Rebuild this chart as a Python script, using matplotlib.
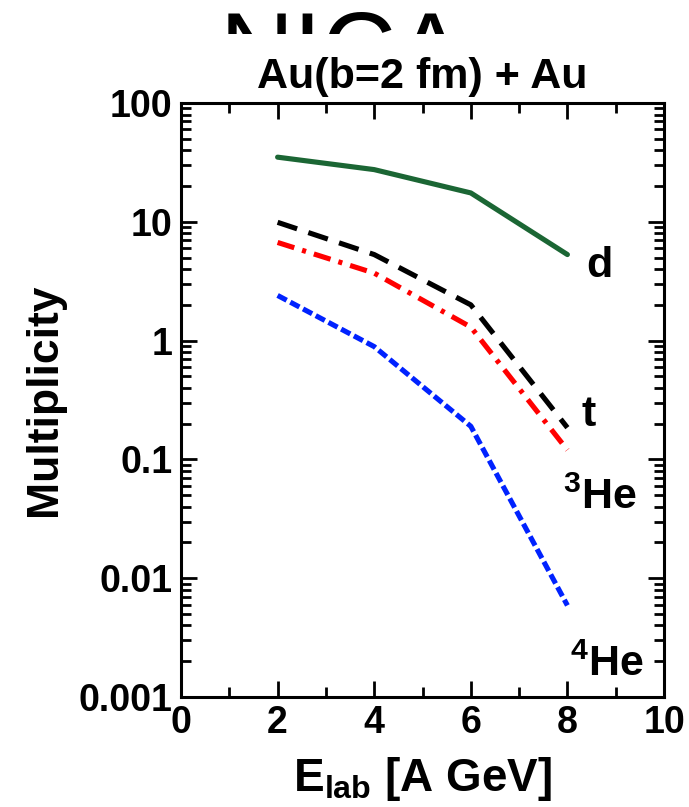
import matplotlib
matplotlib.use("Agg")
import matplotlib.pyplot as plt

# ---------------------------------------------------------
# data
# ---------------------------------------------------------
e_lab = [2, 4, 6, 8]

mult_d = [35.0, 27.5, 17.5, 5.3]
mult_t = [9.9, 5.3, 2.0, 0.185]
mult_he3 = [6.7, 3.7, 1.3, 0.12]
mult_he4 = [2.4, 0.89, 0.19, 0.0059]

labels = ["d", "t", "$^{3}$He", "$^{4}$He"]
label_pos = [(8.38, 3.4), (8.3, 0.19), (7.9, 0.038), (8.05, 0.0015)]

# ---------------------------------------------------------
# style
# ---------------------------------------------------------
plt.rcParams["font.family"] = ["Liberation Sans", "DejaVu Sans"]
plt.rcParams["font.weight"] = "bold"
plt.rcParams["mathtext.fontset"] = "custom"
plt.rcParams["mathtext.rm"] = "Liberation Sans:bold"
plt.rcParams["mathtext.bf"] = "Liberation Sans:bold"
plt.rcParams["mathtext.default"] = "bf"

fig = plt.figure(figsize=(6.89, 8.07), dpi=100)

# big header, only its top part is visible
ax_top = fig.add_axes([0, 1 - 34 / 807, 1, 34 / 807])
ax_top.axis("off")
ax_top.text(220 / 689, 1 - 85 / 807, "NICA", transform=fig.transFigure,
            fontsize=74, fontweight="normal", ha="left", va="baseline",
            clip_on=True)

ax = fig.add_axes([181 / 689, 1 - 697 / 807, 483 / 689, 594 / 807])

lw = 3.7
ax.plot(e_lab, mult_d, color="#1b6634", linewidth=lw, solid_capstyle="round")
l_t, = ax.plot(e_lab, mult_t, color="black", linewidth=lw)
l_t.set_dashes([4.0, 2.3])
l_he3, = ax.plot(e_lab, mult_he3, color="#ff0000", linewidth=lw)
l_he3.set_dashes([3.4, 1.6, 0.8, 1.6])
l_he4, = ax.plot(e_lab, mult_he4, color="#0022ff", linewidth=lw)
l_he4.set_dashes([2.0, 0.8])

for txt, (x, y) in zip(labels, label_pos):
    ax.text(x, y, txt, fontsize=31, fontweight="bold", ha="left", va="baseline")

ax.set_yscale("log")
ax.set_xlim(0, 10)
ax.set_ylim(0.001, 100)
ax.set_xticks([0, 2, 4, 6, 8, 10])
ax.set_xticks([1, 3, 5, 7, 9], minor=True)
ax.set_yticks([0.001, 0.01, 0.1, 1, 10, 100])
ax.set_yticklabels(["0.001", "0.01", "0.1", "1", "10", "100"])

ax.tick_params(which="both", direction="in", top=True, right=True, width=2,
               labelsize=27)
ax.tick_params(which="major", length=11.5, pad=6)
ax.tick_params(which="minor", length=7)
for sp in ax.spines.values():
    sp.set_linewidth(2.2)

ax.set_title("Au(b=2 fm) + Au", fontsize=31, fontweight="bold", pad=11)
ax.set_xlabel("E$_{lab}$ [A GeV]", fontsize=33, fontweight="bold", labelpad=10)
ax.set_ylabel("Multiplicity", fontsize=32, fontweight="bold", labelpad=10)

fig.savefig("out.png", dpi=100)
